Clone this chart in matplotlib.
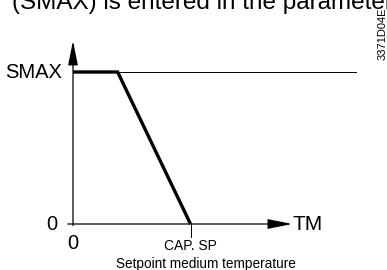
import matplotlib
matplotlib.use("Agg")
import matplotlib.pyplot as plt

plt.rcParams['font.family'] = ['Liberation Sans', 'DejaVu Sans']

# characteristic: setpoint medium temperature vs TM
curve_x = [0.0, 0.38, 1.0]   # 0 .. CAP. SP
curve_y = [1.0, 1.0, 0.0]    # SMAX .. 0
smax_line_end = 2.41
x_tick_labels = ["0", "CAP. SP"]
x_tick_pos = [0.0, 1.0]
y_tick_labels = ["0", "SMAX"]
y_tick_pos = [0.0, 1.0]

fig = plt.figure(figsize=(3.87, 2.70), dpi=100)
ax = fig.add_axes([0, 0, 1, 1])
ax.set_xlim(-73 / 117.5, (387 - 73) / 117.5)
ax.set_ylim(-46 / 152, 224 / 152)
ax.axis('off')

# axes with arrows
arr = dict(arrowstyle='-|>,head_length=1.5,head_width=0.3', color='black',
           lw=0.9, shrinkA=0, shrinkB=0, mutation_scale=10)
ax.annotate('', xy=(0, 1.205), xytext=(0, -0.01), arrowprops=arr)
ax.annotate('', xy=(1.865, 0), xytext=(-0.045, 0), arrowprops=arr)

# thin SMAX reference line
ax.plot([0, smax_line_end], [1, 1], color='black', lw=0.7)
# characteristic
ax.plot(curve_x, curve_y, color='black', lw=2.4, solid_capstyle='butt',
        solid_joinstyle='miter')
# CAP. SP tick
ax.plot([1.0, 1.0], [0, -0.088], color='black', lw=0.7)

ax.text(-0.09, y_tick_pos[1], y_tick_labels[1], ha='right', va='center', fontsize=14.5)
ax.text(-0.13, y_tick_pos[0], y_tick_labels[0], ha='right', va='center', fontsize=14.5)
ax.text(x_tick_pos[0], -0.065, x_tick_labels[0], ha='center', va='top', fontsize=14.5)
ax.text(x_tick_pos[1], -0.1, x_tick_labels[1], ha='center', va='top', fontsize=10)
ax.text(1.13, -0.215, "Setpoint medium temperature", ha='center', va='top', fontsize=9.8)
ax.text(1.87, 0, "TM", ha='left', va='center', fontsize=15)

fig.text(12 / 387, 1 - 9.5 / 270, "(SMAX) is entered in the parameter",
         ha='left', va='baseline', fontsize=17.5)
fig.text(382.5 / 387, 1 - 34 / 270, "3371D04E", rotation=90, ha='center',
         va='center', fontsize=8)

fig.savefig("out.png", dpi=100)
